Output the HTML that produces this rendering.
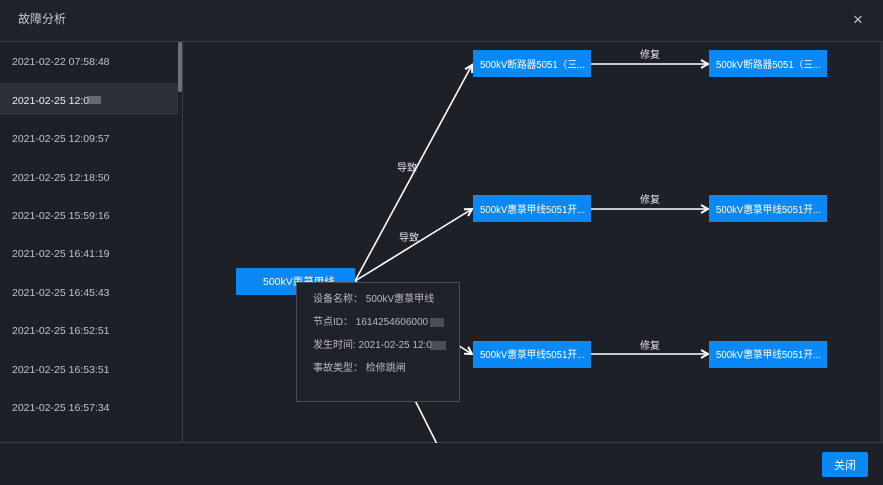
<!DOCTYPE html>
<html><head><meta charset="utf-8"><style>
*{margin:0;padding:0;box-sizing:border-box}
body{width:883px;height:485px;background:#1d2027;font-family:"Liberation Sans","Noto Sans CJK SC",sans-serif;overflow:hidden;position:relative}
</style></head><body>
<svg width="883" height="485" style="position:absolute;left:0;top:0" font-family="Liberation Sans, Noto Sans CJK SC, sans-serif">
<defs><marker id="a" markerWidth="10" markerHeight="10" refX="8" refY="5" orient="auto" markerUnits="userSpaceOnUse"><path d="M1,1 L8,5 L1,9" fill="none" stroke="#fff" stroke-width="2"/></marker></defs>
<rect x="0" y="0" width="883" height="41" fill="#1f2229"/>
<line x1="0" y1="41.5" x2="883" y2="41.5" stroke="#3b3f47"/>
<text x="18" y="23" fill="#c8cad0" font-size="12">故障分析</text>
<text x="858" y="25" fill="#c8cad0" font-size="17" text-anchor="middle">×</text>
<rect x="0" y="83" width="178" height="32" fill="#2c3038"/>
<rect x="178" y="42" width="4" height="50" fill="#6b6f77" rx="2"/>
<line x1="182.5" y1="42" x2="182.5" y2="442" stroke="#3b3f47"/>
<line x1="0" y1="442.5" x2="883" y2="442.5" stroke="#3b3f47"/>
<g fill="#c0c2c8" font-size="10.5">
<text x="12" y="65">2021-02-22 07:58:48</text>
<text x="12" y="104" fill="#eceef2">2021-02-25 12:0</text>
<rect x="87" y="96" width="14" height="8" fill="#8a8d94" opacity="0.6"/>
<text x="12" y="142">2021-02-25 12:09:57</text>
<text x="12" y="181">2021-02-25 12:18:50</text>
<text x="12" y="219">2021-02-25 15:59:16</text>
<text x="12" y="257">2021-02-25 16:41:19</text>
<text x="12" y="296">2021-02-25 16:45:43</text>
<text x="12" y="334">2021-02-25 16:52:51</text>
<text x="12" y="373">2021-02-25 16:53:51</text>
<text x="12" y="411">2021-02-25 16:57:34</text>
</g>
<g stroke="#fff" stroke-width="1.6" fill="none">
<line x1="355" y1="281" x2="472" y2="65" marker-end="url(#a)"/>
<line x1="355" y1="281" x2="472" y2="209" marker-end="url(#a)"/>
<line x1="355" y1="281" x2="472" y2="354" marker-end="url(#a)"/>
<line x1="355" y1="281" x2="445" y2="460"/>
<line x1="591" y1="64" x2="708" y2="64" marker-end="url(#a)"/>
<line x1="591" y1="209" x2="708" y2="209" marker-end="url(#a)"/>
<line x1="591" y1="354" x2="708" y2="354" marker-end="url(#a)"/>
</g>
<g fill="#e6e8ec" font-size="10" text-anchor="middle">
<text x="407" y="171">导致</text>
<text x="409" y="241">导致</text>
<text x="650" y="58">修复</text>
<text x="650" y="203">修复</text>
<text x="650" y="349">修复</text>
</g>
<rect x="183" y="443" width="700" height="42" fill="#1d2027"/>
<g fill="#0a88f5">
<rect x="236" y="268" width="119" height="27"/>
<rect x="473" y="50" width="118" height="27"/><rect x="709" y="50" width="118" height="27"/>
<rect x="473" y="195" width="118" height="27"/><rect x="709" y="195" width="118" height="27"/>
<rect x="473" y="341" width="118" height="27"/><rect x="709" y="341" width="118" height="27"/>
<rect x="822" y="452" width="46" height="25" rx="2"/>
</g>
<g fill="#fff" font-size="10">
<text x="263" y="285" font-size="10.5">500kV惠菉甲线</text>
<text x="480" y="68" textLength="105" lengthAdjust="spacingAndGlyphs">500kV断路器5051（三...</text>
<text x="716" y="68" textLength="105" lengthAdjust="spacingAndGlyphs">500kV断路器5051（三...</text>
<text x="480" y="213" textLength="105" lengthAdjust="spacingAndGlyphs">500kV惠菉甲线5051开...</text>
<text x="716" y="213" textLength="105" lengthAdjust="spacingAndGlyphs">500kV惠菉甲线5051开...</text>
<text x="480" y="358" textLength="105" lengthAdjust="spacingAndGlyphs">500kV惠菉甲线5051开...</text>
<text x="716" y="358" textLength="105" lengthAdjust="spacingAndGlyphs">500kV惠菉甲线5051开...</text>
<text x="845" y="469" text-anchor="middle" font-size="11">关闭</text>
</g>
<rect x="296.5" y="282.5" width="163" height="119" fill="#1f2228" stroke="#4a4e56"/>
<g fill="#b8bac0" font-size="10">
<text x="313" y="302">设备名称：  500kV惠菉甲线</text>
<text x="313" y="325">节点ID：  1614254606000</text>
<text x="313" y="348">发生时间: 2021-02-25 12:0</text>
<text x="313" y="371">事故类型：  检修跳闸</text>
</g>
<rect x="430" y="318" width="14" height="9" fill="#6a6d74" opacity="0.6"/>
<rect x="430" y="341" width="16" height="9" fill="#6a6d74" opacity="0.6"/>
<rect x="880" y="42" width="3" height="400" fill="#2a2d33"/>
</svg>
</body></html>
